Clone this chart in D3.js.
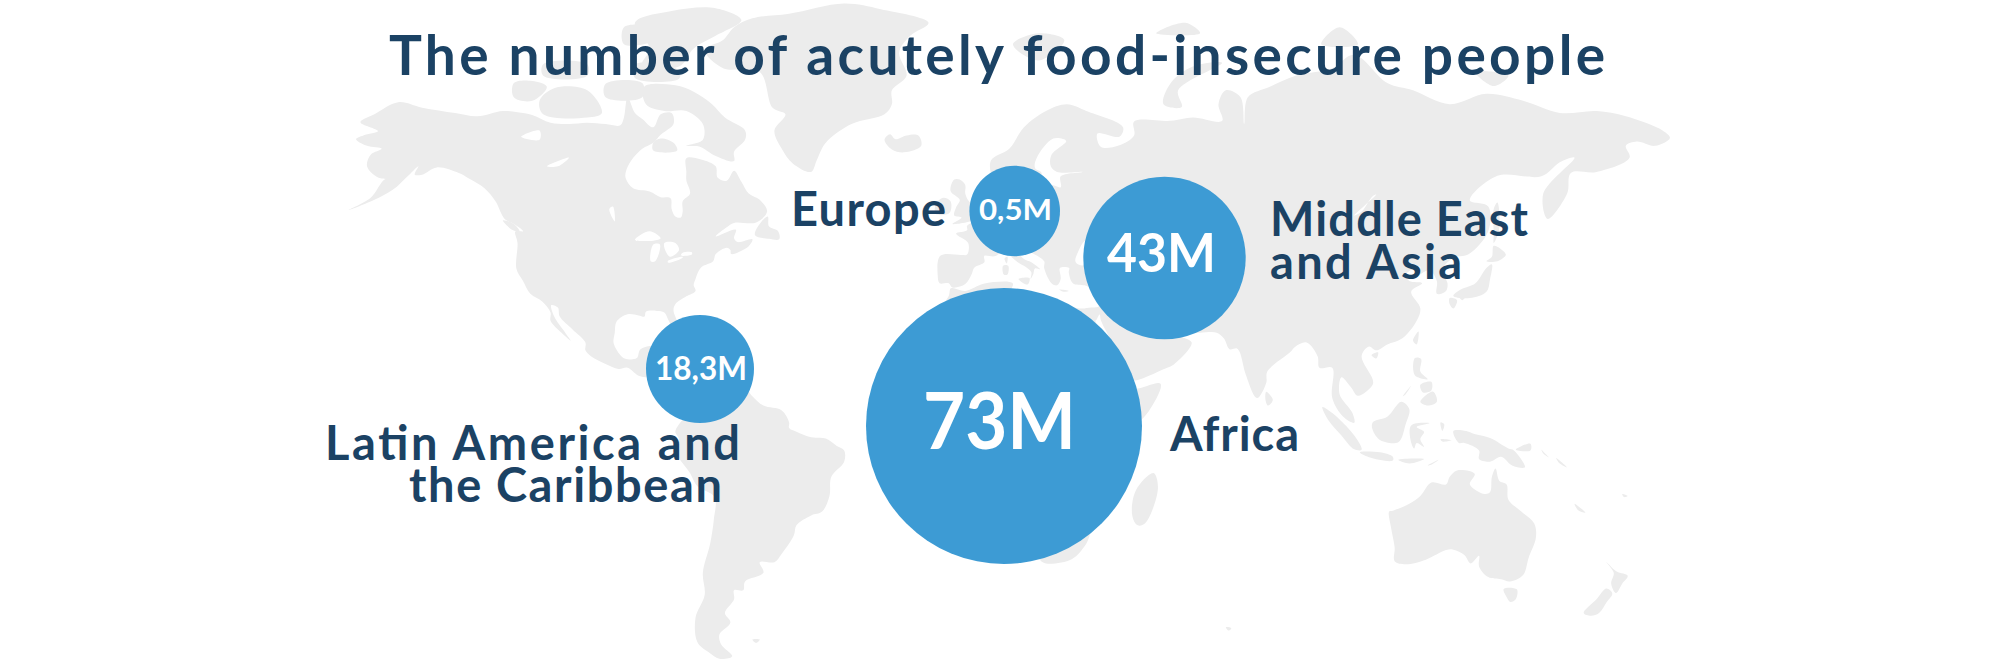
<!DOCTYPE html>
<html><head><meta charset="utf-8">
<script src="https://cdn.jsdelivr.net/npm/d3@7"></script>
<style>html,body{margin:0;padding:0;background:#fff}svg{display:block}</style>
</head><body><svg id="c" width="1997" height="666"></svg>
<script>
const title = "The number of acutely food-insecure people";
const regions = ["Europe","Middle East and Asia","Africa","Latin America and the Caribbean"];
const values = [0.5,43,73,18.3];
const valueLabels = ["0,5M","43M","73M","18,3M"];

// land outlines, [lon,lat]
const americas = [[-168,65.6],[-166,66.2],[-162,66.9],[-166.8,68.3],[-163,69.5],[-156.5,71.3],[-150,70.5],[-141,69.7],[-135,69.2],[-128,70],[-124,69.8],[-120,69.4],[-115,68.2],[-110,68],[-105,68.2],[-100,68],[-96,67.8],[-95,69],[-94,72],[-92,69.7],[-90,68.8],[-87,67.5],[-85,69.5],[-82,69.7],[-81.5,68],[-85,66.3],[-87,65],[-90,64],[-93,62],[-94.5,60],[-94.5,58.8],[-92.5,57],[-88,56.4],[-85,55.3],[-82.3,55.1],[-82,53],[-81,51.5],[-79.5,51.3],[-79,52.5],[-79,54.5],[-77,56],[-78,58.5],[-78,60],[-78,62.4],[-74,62.2],[-70,61],[-69.5,59],[-67,58.4],[-65,60.2],[-63,58.2],[-61,56],[-58,54.8],[-56,52.5],[-59,50.3],[-65,50.2],[-67,49.3],[-70,47.4],[-64.5,48.8],[-65,47],[-64,46.2],[-60,46.8],[-61,45.3],[-65.8,43.6],[-66,44.5],[-67,45],[-70,43.6],[-70.7,42],[-74,40.6],[-75.5,38],[-76,36.5],[-75.5,35.2],[-78,33.9],[-81,32],[-81.5,30.5],[-80.2,27],[-80.3,25.3],[-81.5,25.9],[-82.8,28],[-84,30],[-86,30.4],[-89,30.2],[-89.4,29],[-91,29.3],[-94,29.6],[-97,27.8],[-97.5,25],[-97.8,22.3],[-95.5,18.8],[-94,18.2],[-91.5,18.5],[-90.5,20.8],[-87,21.5],[-87.5,19],[-88.3,16.5],[-86,15.9],[-83.2,15],[-83.6,11],[-82,9.1],[-80,9.2],[-77.3,8.7],[-75,11],[-72,12],[-71.5,10.8],[-68,11],[-64,10.5],[-62,10.7],[-60,8.5],[-57,6],[-52,4.7],[-50,1.5],[-50,0],[-48,-1],[-44,-2.5],[-40,-2.8],[-37,-4.8],[-35,-6],[-35,-9],[-38.5,-13],[-39,-18],[-41,-22],[-44,-23],[-48,-25.5],[-48.7,-28],[-52,-32.5],[-54,-34.5],[-58,-34.5],[-57,-37],[-62,-39],[-62.5,-41],[-65,-41],[-65,-43],[-67.5,-46],[-66,-48],[-69,-50.5],[-68.5,-52.5],[-65.5,-54.8],[-69,-55.3],[-72,-54],[-75,-52],[-75.5,-47],[-73,-42],[-73.5,-37],[-71.5,-30],[-70.5,-24],[-70.3,-18.3],[-75,-15.5],[-77,-12],[-81,-6],[-80,-3],[-81,-1],[-80,1],[-77.5,4],[-77.5,7],[-78,7.5],[-80,7.3],[-83,8.2],[-85.7,10],[-87.5,13],[-91,13.9],[-94,16],[-96.5,15.7],[-100,17],[-104,19],[-105.5,20.5],[-105.5,22.5],[-109,25.8],[-112.5,29],[-113,31.2],[-114.8,31.8],[-114,29],[-111,25],[-109.5,23],[-112,25],[-115,28],[-115,30],[-117.2,32.6],[-120.5,34.5],[-122.5,37.5],[-124.3,40.3],[-124,46],[-124.6,48.4],[-122.5,48.5],[-125,50],[-127.5,51],[-130,54.5],[-133,57],[-137,58.7],[-140,59.8],[-146,60.8],[-150,59.5],[-152,59.5],[-151,61],[-153.5,59.5],[-158,56.7],[-163,54.8],[-170,52.8],[-164,55.2],[-160,58.7],[-157,58.7],[-162,59],[-165,61],[-164,63],[-161,64],[-165,64.5]];
const afroEurasia = [[-5.9,35.8],[-2,35.2],[3,36.9],[10,37.3],[11,36.9],[10,34],[12,33],[15,32.3],[19,30.3],[20,32.5],[23,32.7],[29,31],[32.3,31.2],[34.5,31.5],[35.9,35],[36,36.7],[32,36.1],[30.5,36.5],[27.3,37],[26.2,39.5],[26.3,40.5],[23.8,40.5],[24,38],[23,36.5],[21.5,37],[19.5,40.5],[19.5,42],[15,44.5],[13.7,45.6],[12.3,45.3],[12.3,44.2],[14,42.5],[16,41.8],[18.4,40.2],[17,40.4],[16.5,39],[15.8,38],[16,39.5],[14.5,40.7],[12.3,41.8],[10.5,43],[9,44.4],[6,43.1],[3.2,43.2],[3.2,41.8],[0.5,40.6],[-0.3,39],[-2,36.8],[-5.5,36],[-6.5,37],[-9,37],[-9.5,38.7],[-8.8,43.2],[-3,43.4],[-1.5,43.5],[-1.2,46],[-4.5,48],[-1.5,48.7],[-1.5,49.6],[2,51],[4,52],[5,53.4],[8.5,53.8],[8.2,57],[10.6,57.7],[10.2,55],[11,54],[14,54],[19,54.4],[21,55.2],[21.5,57.5],[24,57.2],[24,59.2],[30,60],[23,60],[21.3,61],[21.5,63],[25.5,65.3],[22,65.7],[17.5,62.5],[17,60.7],[18.8,59.8],[16.5,57],[14.3,55.5],[12.8,55.5],[11,59],[8,58],[5.5,59],[5,62],[10,64],[14,67.5],[20,70],[25.7,71],[31,70],[41,67.5],[40,66],[34,66.5],[35,64.3],[40,64.6],[44,66.2],[44,68.4],[54,68.5],[60,69],[68,68.5],[67,71],[69,73],[73,72],[74,68],[75,72],[81,73.5],[88,75],[98,76],[104,77.7],[113,74],[120,73],[130,71],[140,72.5],[150,71.5],[160,69.7],[170,70],[178,69.2],[188,67],[190,65.8],[186,64.5],[181,65.2],[178,64.5],[179,62.5],[170,60],[163,59.8],[162,56],[156.7,51],[155.5,56],[164,62.5],[160,61.7],[155,59.2],[143,59.3],[135.5,54.7],[140.5,53.5],[140.5,48.5],[135,43.5],[131,42.8],[128,40],[129.4,37],[129,35.2],[126.5,34.5],[126.5,37.5],[124.5,40],[121.5,39],[122,40.8],[118,39],[119,37.5],[122.5,37],[119.5,35],[122,31],[121,28],[117,23.5],[113,22],[110,20.5],[108,21.5],[106,19],[109,13],[109,11.5],[105,8.6],[103,11],[100.5,13.5],[100,9],[103.5,4],[104,1.4],[101,3],[98,8],[98,16],[94.5,16],[94,19],[91,22.5],[88,21.5],[86.5,20],[80.3,15],[80,12],[77.5,8],[74.5,14],[72.8,20],[72,21],[70,20.8],[68.5,23.5],[66.5,25],[61.5,25],[57,25.5],[56.5,27],[52,27.5],[50,30],[48,30],[50,26.5],[51.5,25],[54,24],[56.3,26],[56.5,24.3],[59.7,22.5],[55,17],[52,15.6],[45,12.8],[43.3,12.8],[42.8,15],[39,21],[35,28],[34.6,29.5],[33.5,28],[32.6,29.9],[33.9,27],[37,21],[39.5,15.5],[43,12],[44,10.5],[51.2,11.8],[48,4.5],[42,-1.5],[39.5,-5],[40.5,-11],[40.5,-15],[35,-20],[35.5,-24],[32.8,-26],[31,-30],[27,-33.8],[20,-34.8],[18.4,-34],[15,-27],[12,-18],[13.5,-12],[12,-5],[9,-1],[9.5,3.5],[6,4.3],[4,6.3],[-4,5.2],[-7.5,4.4],[-13,8.5],[-16.7,12.5],[-17.5,14.7],[-16,19],[-17,21],[-13,27.7],[-10,30],[-6.5,34]];
const australia = [[113.5,-22],[114,-26],[115,-31],[115,-34.3],[118,-35],[123.5,-33.9],[129,-31.6],[131,-31.5],[134,-32.8],[135.7,-34.8],[138,-33],[138,-35.5],[140.5,-38],[144,-38.5],[146.4,-39],[150,-37.5],[151.5,-33.5],[153.5,-28.5],[153,-25],[149.5,-22],[146,-19],[145.5,-15],[143.5,-14],[142.5,-10.8],[141.5,-13],[141,-17],[139.5,-17.5],[135.5,-15],[136.8,-12.2],[132,-11.3],[130,-13],[129,-15],[125,-14.5],[122,-18],[119,-20],[114.5,-21.8]];
const greenland = [[-73,78.3],[-68,76],[-58,75.5],[-54.5,70.5],[-51,69.5],[-54,67],[-52,64],[-49,61.5],[-44,60],[-42.5,62],[-40,65],[-33,68],[-24,69.5],[-22,71],[-22,73],[-18,75],[-20,78],[-17,80],[-12,81.5],[-25,83],[-35,83.6],[-50,82.5],[-60,82],[-65,81],[-68,79.5]];
const islands = [
 [[-65,61.9],[-70,62.8],[-74.5,64.4],[-78,64.5],[-73.5,65.5],[-73.5,68],[-78,70],[-84,70],[-89,71],[-89.5,73.5],[-81,73.7],[-76,72.8],[-71,71],[-67.5,69],[-62,67],[-62,65.5],[-65,63.5]],
 [[-117,69.5],[-105,69],[-101,69.7],[-105,73],[-114,73.3],[-118,71.5]],
 [[-125,72],[-120,71.5],[-116,73.5],[-120,74.3],[-125,74]],
 [[-90,76.5],[-80,76.2],[-76,78.5],[-70,80],[-63,81.8],[-70,83.1],[-82,82.8],[-92,81.5],[-88,78.5]],
 [[-92,74.7],[-80,74.6],[-80,75.7],[-92,76.5]],
 [[-100,72],[-90,72],[-90,74],[-100,73.9]],
 [[-117,75],[-105,75],[-105,76.5],[-117,76.5]],
 [[-95,79],[-87,79.5],[-88,81],[-95,81]],
 [[-87,63.7],[-80.5,63.7],[-81.5,65],[-85,65.7],[-87,65]],
 [[-59.3,47.7],[-55.5,46.9],[-52.7,46.8],[-53,48.5],[-55.5,49.5],[-55.8,51.5],[-57.5,50.5]],
 [[-128,50.7],[-125,50],[-123.4,48.4],[-125.5,48.8]],
 [[-24,65.5],[-22,63.9],[-18.7,63.4],[-14,64.5],[-14.8,66.2],[-18,66.2],[-21,65.6],[-22.5,66.4]],
 [[11,79],[18,77],[25,79.5],[18,80.3]],
 [[52,71],[57,70.6],[56,73],[68,76.7],[60,76.2],[54,74]],
 [[95,79],[105,79],[100,81]],
 [[50,80.3],[62,80.3],[58,81.5]],
 [[137,75.5],[146,75],[142,73.6]],
 [[-85,21.9],[-82,23.1],[-77,22],[-74.2,20.2],[-77.7,19.9],[-78,20.7],[-82,22.2]],
 [[-74.4,18.4],[-72,20],[-68.4,18.6],[-71,18]],
 [[-78.3,18.4],[-76.3,18.2],[-77,17.8]],
 [[-5.5,50],[1.5,51.2],[1.7,52.7],[-1,54.5],[-2,56],[-2,57.6],[-3.5,58.6],[-5,58.6],[-6,56.5],[-3.5,54.8],[-4.5,53.3],[-5,51.7],[-3,51.3]],
 [[-10,52],[-6.3,52.2],[-6,54.5],[-8,55.2],[-10,54]],
 [[12.5,38],[15.5,38.2],[15,36.7]],[[8.3,41],[9.7,41],[9.5,39],[8.5,39]],[[8.7,42.6],[9.5,43],[9.3,41.5]],[[23.6,35.5],[26.2,35.2],[24.7,35]],[[32.4,35],[34.5,35.6],[33.5,34.7]],
 [[142,46],[143.5,49],[143,54.3],[142,53],[142,48]],
 [[140,42],[143,42],[145.3,43.5],[142,45.4],[141.5,43]],
 [[131,34],[135.5,33.5],[140,35],[141,38],[141.5,41.3],[140,40.5],[137,37],[133,35.5]],
 [[130,33.5],[132,33],[131,31],[130,32]],[[132.5,34],[134.5,34.2],[133.5,33]],
 [[120,23],[121.5,25.3],[121,22]],[[108.7,19.3],[110.5,20],[110,18.4]],
 [[80,9.7],[81.8,7.5],[80.5,6],[79.8,7.5]],
 [[120.5,18.5],[122.2,18.3],[122,15],[124,13],[120.5,14]],
 [[122,7],[125.5,9.7],[126.5,7],[124,6]],[[122,11.5],[125,12.3],[125,10],[122.7,9.5]],[[117.2,8.4],[119.5,11.3],[118,9]],
 [[95.3,5.6],[98,4],[104,-2],[106,-5.8],[104,-5.7],[100.5,-2],[97,2]],
 [[105.5,-6.5],[111,-6.5],[114.5,-7.7],[114.5,-8.7],[108,-7.8]],
 [[109,1.5],[113,3],[116.8,7],[119,5],[118,1],[116,-3.8],[111,-3.2],[109,-0.5]],
 [[119.5,0.7],[124.5,1.3],[121,0.3],[123,-1],[122,-3],[123,-5],[121,-4],[120.3,-5.5],[119.3,-3]],
 [[131,-0.8],[134.5,-0.8],[137,-1.7],[141,-2.7],[146,-5.5],[147.5,-6],[150.5,-10.5],[147,-10],[144,-7.7],[141,-9],[138,-8.3],[138,-6],[134,-4],[132.5,-4]],
 [[116,-8.5],[123,-8.3],[119,-9.5]],[[124,-10],[127,-8.5],[125,-9.8]],[[127.5,-3],[130.5,-3.3],[128,-3.6]],[[127.5,1.5],[128.5,1],[128,-0.8]],
 [[148,-5.8],[152,-4.2],[152,-6]],[[155,-5.8],[156,-6.8],[157,-7.8],[155.5,-6.8]],[[159,-8],[162,-10.5],[160,-9.5]],
 [[164,-20],[167,-22.3],[165,-21.7]],[[177,-17.5],[178.5,-18],[177.5,-18.3]],
 [[144.7,-40.7],[148.3,-40.8],[148,-43],[146.5,-43.6],[145.5,-42.5]],
 [[172.7,-34.5],[175.5,-36.7],[178.5,-37.7],[177,-39.5],[175.3,-41.6],[174,-39.5],[174.7,-37]],
 [[172.7,-40.6],[174.3,-41.7],[172.8,-43.6],[170.7,-46],[168.5,-46.6],[166.5,-46],[170,-43]],
 [[49.3,-12],[50.5,-16],[47,-25],[45,-25.5],[43.5,-23],[44.5,-16.5]],
 [[69,-49],[70.5,-49.2],[69.8,-49.7]],[[-60,-51.5],[-58,-51.5],[-59,-52.2]]
];
const waters = [
 [[47,45],[51,47],[53,45.5],[50.5,44.5],[52.5,42.5],[53,40],[54,37],[51,36.8],[49,38],[49.5,40.5],[47.5,43]],
 [[28,42],[29,41.2],[31.5,41.2],[35,42],[38,41],[41.5,41.6],[41,43],[37,45],[38.5,47],[35,46],[35.5,45.3],[33.5,44.5],[33,46],[30.7,46.5],[28.7,44]],
 [[-92,46.7],[-88,48.5],[-85,47],[-87,46.5]],[[-87.7,42],[-86.5,42],[-85.2,45.7],[-87,45.7]],[[-84,46],[-81,46],[-80,44.5],[-82.4,43],[-83.5,44]],[[-83,41.7],[-79,42.8],[-79,43],[-83,42.1]],[[-79.5,43.3],[-76.5,43.5],[-76.5,44],[-79,43.9]],
 [[-123,66],[-118,67],[-118,65.5]],[[-116,61],[-110,62.5],[-113,61]],[[-97.5,50.5],[-98,53.5],[-99,53]],
 [[104,51.7],[110,55.8],[109,55.5],[106,52.5]],[[58.5,46.5],[61,46.5],[60,44],[58.5,44]]
];

const svg=d3.select("#c");
const lonScale=d3.scaleLinear().domain([-180,180]).range([312,1633.2]);
const miller=lat=>{const p=lat*Math.PI/180;return 1.25*Math.log(Math.tan(Math.PI/4+0.4*p));};
const latScale=d3.scaleLinear().domain([0,1]).range([428,214]);
const coast=d3.line().x(d=>lonScale(d[0])).y(d=>latScale(miller(d[1]))).curve(d3.curveCatmullRomClosed.alpha(0.5));
svg.append("g").attr("fill","#ececec").selectAll("path").data([americas,afroEurasia,australia,greenland,...islands]).join("path").attr("d",coast);
svg.append("g").attr("fill","#fff").selectAll("path").data(waters).join("path").attr("d",coast);

const ink="#1b4264", blue="#3d9bd4";
const FONT="Lato, 'Open Sans', sans-serif";
function label(t,x0,x1,base,size,fill,adjust){
  svg.append("text").text(t).attr("x",x0).attr("y",base).attr("font-family",FONT).attr("font-weight",700)
    .attr("font-size",size).attr("fill",fill).attr("textLength",x1-x0).attr("lengthAdjust",adjust||"spacing");
}
const rScale=d3.scaleLinear().domain([0.5,18.3,43,73]).range([45.3,54,81.2,138]);
const centers=[[1014.7,211],[1164.5,258],[1004,426],[700,369]];
svg.append("g").selectAll("circle").data(values).join("circle")
  .attr("cx",(d,i)=>centers[i][0]).attr("cy",(d,i)=>centers[i][1]).attr("r",d=>rScale(d)).attr("fill",blue);

label(title,389,1605,75,55,ink);
const valuePos=[[979,1052,220,29],[1107,1216,272,54],[923,1076,449,78],[655,747,380,32]];
valueLabels.forEach((t,i)=>{const p=valuePos[i];label(t,p[0],p[1],p[2],p[3],"#fff","spacingAndGlyphs");});
label(regions[0],791,946,226,47,ink);
label("Middle East",1270,1528,236,47,ink);
label("and Asia",1270,1462,279,47,ink);
label(regions[2],1170,1299,451,47,ink);
label("Latin America and",325,740,460,47,ink);
label("the Caribbean",409,722,502,47,ink);
</script></body></html>
